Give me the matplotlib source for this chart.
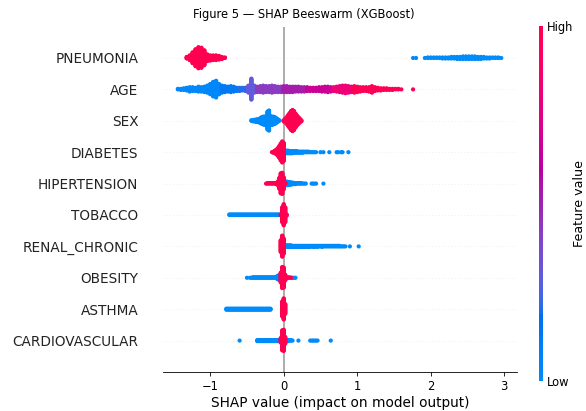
import numpy as np
import matplotlib
matplotlib.use("Agg")
import matplotlib.pyplot as plt
from matplotlib.colors import ListedColormap
from matplotlib.cm import ScalarMappable

# feature order, top to bottom
features = ["PNEUMONIA", "AGE", "SEX", "DIABETES", "HIPERTENSION", "TOBACCO",
            "RENAL_CHRONIC", "OBESITY", "ASTHMA", "CARDIOVASCULAR"]

# histograms of SHAP values: (first bin centre, counts per bin)
# wide rows use 0.04 bins, the narrow rows 0.02 bins
BIN_WIDE = 0.04
BIN_NARROW = 0.02

pneumonia_high = (-1.32, [4, 10, 22, 34, 42, 40, 30, 14, 11, 10, 10, 8, 5, 2])
pneumonia_low = (1.76, [1, 1, 0, 0, 1, 2, 2, 2, 2, 2, 3, 3, 3, 4, 4, 5, 5, 6, 6, 6,
                        6, 6, 5, 5, 4, 3, 3, 2, 2, 2, 1])

age = (-1.44, [2, 3, 4, 6, 9, 8, 7, 10, 9, 11, 14, 20, 28, 32, 20,
               14, 12, 10, 12, 10, 7,
               7, 6, 7,
               14, 40, 14,
               11, 12, 14, 12, 12, 14, 12, 11, 11,
               12, 12, 11, 11, 10, 10, 9, 9,
               8, 7, 7, 7, 8, 9, 10, 11, 9,
               8, 10, 12, 14, 15, 13, 11,
               13, 11, 9, 8, 8, 9, 13, 8, 6, 5, 4, 4, 3, 3, 2, 2, 1, 0, 0, 0, 1])
# feature value (0 = low, 1 = high) of each AGE bin
age_value = [0.02, 0.02, 0.02, 0.02, 0.02, 0.02, 0.02, 0.02, 0.02, 0.02, 0.02, 0.02, 0.02, 0.02, 0.02,
             0.12, 0.12, 0.12, 0.12, 0.12, 0.12,
             0.2, 0.2, 0.2,
             0.3, 0.3, 0.3,
             0.42, 0.42, 0.42, 0.42, 0.42, 0.42, 0.42, 0.42, 0.42,
             0.52, 0.52, 0.52, 0.52, 0.52, 0.52, 0.52, 0.52,
             0.65, 0.65, 0.65, 0.65, 0.65, 0.65, 0.65, 0.65, 0.65,
             0.82, 0.82, 0.82, 0.82, 0.82, 0.82, 0.82,
             0.97, 0.97, 0.97, 0.97, 0.97, 0.97, 0.97, 0.97, 0.97, 0.97, 0.97, 0.97, 0.97, 0.97,
             0.97, 0.97, 0.97, 0.97, 0.97, 0.97, 0.97]

sex_low = (-0.44, [2, 3, 4, 5, 6, 7, 10, 14, 16, 17, 18, 36, 40, 18, 17, 16, 14, 10, 6, 2])
sex_high = (0.00, [3, 8, 14, 22, 30, 38, 42, 38, 28, 20, 14, 8, 3])

diabetes_high = (-0.16, [1, 3, 6, 10, 16, 24, 34, 42, 36])
diabetes_low = (0.02, [6, 6, 6, 5, 5, 5, 4, 4, 4, 3, 3, 3, 3, 2, 2, 2, 2, 1, 1, 1, 1, 1,
                       0, 0, 1, 0, 1, 0, 0, 0, 1, 0, 0, 0, 0, 1, 1, 0, 1, 1, 0, 0, 0, 1])

hipertension_high = (-0.24, [1, 2, 2, 2, 2, 2, 2, 3, 8, 22, 40, 42, 24, 4])
hipertension_low = (0.02, [8, 8, 7, 6, 5, 4, 3, 3, 2, 2, 2, 2, 1, 1, 1, 0, 0, 0,
                           1, 1, 1, 1, 0, 0, 0, 0, 1])

tobacco_low = (-0.74, [2, 2, 2, 2, 2, 2, 2, 2, 2, 2, 2, 2, 2, 2, 2, 2, 2, 2,
                       2, 2, 2, 2, 2, 2, 2, 2, 2, 2, 2, 2, 2, 2, 2, 2, 2, 2])
tobacco_high = (-0.04, [3, 30, 42, 30, 3])

renal_high = (-0.04, [24, 42, 30])
renal_low = (0.02, [4, 4, 4, 4, 4, 3, 3, 3, 3, 3,
                    3, 3, 3, 3, 3, 3, 3, 3, 2, 3, 3, 2, 3, 2, 2, 3, 2, 2, 2, 2,
                    2, 2, 2, 2, 2, 2, 2, 2, 1, 1, 1, 1,
                    0, 0, 1, 0, 0, 0, 0, 0, 1])

obesity_low = (-0.50, [1, 0, 1, 1, 2, 2, 2, 2, 2, 2, 2, 2, 2, 2, 2, 2, 2, 2, 2, 2,
                       4, 8, 10, 8, 6, 4, 4, 3, 2, 2, 1, 1, 1, 1])
obesity_high = (-0.04, [20, 42, 40, 12, 1, 1, 0, 1])

asthma_low = (-0.78, [3, 3, 3, 3, 3, 3, 3, 3, 3, 3, 3, 3, 3, 3, 3, 3,
                      3, 3, 3, 3, 3, 3, 3, 3, 3, 3, 3, 3, 3, 3, 3])
asthma_high = (-0.02, [30, 42, 20])

cardio_low = (-0.60, [1, 0, 0, 0, 0, 0, 0, 0, 0, 0, 0, 0,
                      3, 3, 3, 3, 3, 3, 3, 3, 3, 3, 3, 3, 3, 3, 3, 3,
                      3, 3, 3, 3, 3, 3, 2, 2, 1, 0, 0, 0, 1, 0, 0, 0, 0, 0, 0, 0,
                      1, 1, 1, 1, 1, 1, 0, 0, 0, 0, 0, 0, 0, 0, 1])
cardio_high = (-0.04, [10, 40, 42, 14])

# (bin width, [(histogram, feature value), ...]) in the order of `features`
rows = [
    (BIN_WIDE, [(pneumonia_low, 0.0), (pneumonia_high, 1.0)]),
    (BIN_WIDE, [(age, age_value)]),
    (BIN_NARROW, [(sex_low, 0.0), (sex_high, 1.0)]),
    (BIN_NARROW, [(diabetes_low, 0.0), (diabetes_high, 1.0)]),
    (BIN_NARROW, [(hipertension_low, 0.0), (hipertension_high, 1.0)]),
    (BIN_NARROW, [(tobacco_low, 0.0), (tobacco_high, 1.0)]),
    (BIN_NARROW, [(renal_low, 0.0), (renal_high, 1.0)]),
    (BIN_NARROW, [(obesity_low, 0.0), (obesity_high, 1.0)]),
    (BIN_NARROW, [(asthma_low, 0.0), (asthma_high, 1.0)]),
    (BIN_NARROW, [(cardio_low, 0.0), (cardio_high, 1.0)]),
]


def lch_to_rgb(l, c, h):
    # CIE LCh -> sRGB (D65)
    a, b = c * np.cos(h), c * np.sin(h)
    fy = (l + 16) / 116
    f = np.array([fy + a / 500, fy, fy - b / 200])
    xyz = np.where(f > 6 / 29, f ** 3, 3 * (6 / 29) ** 2 * (f - 4 / 29))
    xyz = xyz * np.array([0.95047, 1.0, 1.08883])
    m = np.array([[3.2406, -1.5372, -0.4986],
                  [-0.9689, 1.8758, 0.0415],
                  [0.0557, -0.2040, 1.0570]])
    rgb = m @ xyz
    rgb = np.where(rgb <= 0.0031308, 12.92 * rgb, 1.055 * np.abs(rgb) ** (1 / 2.4) - 0.055)
    return np.clip(rgb, 0, 1)


# shap-style red/blue map
nsteps = 100
l_vals = list(np.linspace(54., 40., nsteps // 2)) + list(np.linspace(40., 54., nsteps // 2))
c_vals = np.linspace(70., 90., nsteps)
h_vals = np.linspace(4.6588, 0.35470565 + 2 * np.pi, nsteps)
red_blue = ListedColormap([lch_to_rgb(l, c, h) for l, c, h in zip(l_vals, c_vals, h_vals)])


def swarm(hist, step, value):
    start, counts = hist
    vals = value if np.ndim(value) else [value] * len(counts)
    xs, ys, cs = [], [], []
    for i, (n, v) in enumerate(zip(counts, vals)):
        for layer in range(n):
            xs.append(start + i * step)
            ys.append(np.ceil(layer / 2) * ((layer % 2) * 2 - 1))
            cs.append(v)
    return np.array(xs), np.array(ys), np.array(cs)


fig = plt.figure(figsize=(5.86, 4.11), dpi=100)
ax = fig.add_axes([0.2787, 0.0949, 0.6031, 0.8404])

n = len(features)
for i, (step, groups) in enumerate(rows):
    pos = n - 1 - i
    ax.axhline(pos, color="#cccccc", lw=0.38, dashes=(1, 5), zorder=-1)
    parts = [swarm(h, step, v) for h, v in groups]
    top = max(p[1].max() for p in parts)
    for xs, ys, cs in parts:
        ax.scatter(xs, pos + ys * 0.9 * 0.4 / (top + 1), c=cs, cmap=red_blue,
                   vmin=0, vmax=1, s=9.1, linewidths=0, zorder=3)

ax.axvline(0, color="#999999", lw=1.13, zorder=-1)

ax.set_xlim(-1.638, 3.170)
ax.set_ylim(-1, n)
ax.set_yticks(range(n))
ax.set_yticklabels(features[::-1], fontsize=9.8, color="#222222")
ax.tick_params(axis="y", length=0, pad=17.9)
ax.set_xticks([-1, 0, 1, 2, 3])
ax.tick_params(axis="x", labelsize=8.3, length=2.6, width=0.6)
ax.set_xlabel("SHAP value (impact on model output)", fontsize=9.8, labelpad=2)
for side in ["top", "right", "left"]:
    ax.spines[side].set_visible(False)
ax.spines["bottom"].set_linewidth(0.6)

fig.suptitle("Figure 5 \u2014 SHAP Beeswarm (XGBoost)", x=0.518, y=0.9647,
             va="center", fontsize=8.3)

cax = fig.add_axes([0.9198, 0.0730, 0.0073, 0.8637])
sm = ScalarMappable(cmap=red_blue)
sm.set_array([0, 1])
cb = fig.colorbar(sm, cax=cax, ticks=[0, 1])
cb.set_ticklabels(["Low", "High"])
cb.ax.tick_params(labelsize=8.3, length=0, pad=2.5)
cb.set_label("Feature value", size=9.06, labelpad=0)
cb.outline.set_visible(False)

fig.savefig("out.png", dpi=100)
